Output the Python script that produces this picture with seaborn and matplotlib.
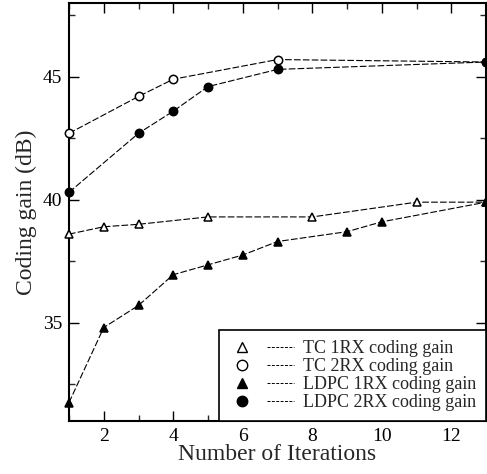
import matplotlib
matplotlib.use("Agg")
import matplotlib.pyplot as plt
import seaborn as sns
import pandas as pd
from matplotlib.lines import Line2D
from matplotlib.legend_handler import HandlerTuple

tc1_x = [1, 2, 3, 5, 8, 11, 13]
tc1_y = [38.6, 38.9, 39.0, 39.3, 39.3, 39.9, 39.9]
tc2_x = [1, 3, 4, 7, 13]
tc2_y = [42.7, 44.2, 44.9, 45.7, 45.6]
ldpc1_x = [1, 2, 3, 4, 5, 6, 7, 9, 10, 13]
ldpc1_y = [31.75, 34.8, 35.7, 36.95, 37.35, 37.75, 38.3, 38.7, 39.1, 39.9]
ldpc2_x = [1, 3, 4, 5, 7, 13]
ldpc2_y = [40.3, 42.7, 43.6, 44.6, 45.3, 45.6]

labels = ["TC 1RX coding gain", "TC 2RX coding gain",
          "LDPC 1RX coding gain", "LDPC 2RX coding gain"]
series = [(tc1_x, tc1_y), (tc2_x, tc2_y), (ldpc1_x, ldpc1_y), (ldpc2_x, ldpc2_y)]
markers = ["^", "o", "^", "o"]
faces = ["white", "white", "black", "black"]
msizes = [5.5, 6, 5.5, 6]

sns.set_style("ticks")
plt.rcParams["font.family"] = ["Liberation Serif", "DejaVu Serif"]

fig = plt.figure(figsize=(4.87, 4.74), dpi=100)
ax = fig.add_axes([69 / 487, 53 / 474, 417 / 487, 418 / 474])

handles = []
for (xs, ys), lab, m, fc, ms in zip(series, labels, markers, faces, msizes):
    df = pd.DataFrame({"x": xs, "y": ys})
    sns.lineplot(data=df, x="x", y="y", ax=ax, color="black", linewidth=0.8,
                 linestyle=(0, (6, 2)), marker=m, markersize=ms,
                 markerfacecolor=fc, markeredgecolor="black",
                 markeredgewidth=1.1, clip_on=False, zorder=3)
    mk = Line2D([], [], linestyle="none", marker=m, markersize=ms + 1.5,
                markerfacecolor=fc, markeredgecolor="black", markeredgewidth=1.0)
    ln = Line2D([], [], color="black", linewidth=0.7, linestyle=(0, (3, 1.5)))
    handles.append((mk, ln))

ax.set_xlim(1, 13)
ax.set_ylim(31, 48)
ax.set_xticks([2, 4, 6, 8, 10, 12])
ax.set_xticks(range(1, 14), minor=True)
ax.set_yticks([35, 40, 45])
ax.set_yticks([32.5, 35, 37.5, 40, 42.5, 45, 47.5], minor=True)
ax.tick_params(axis="both", which="major", direction="in", length=7, width=1,
               labelsize=14, top=True, right=True, colors="black", pad=5)
ax.tick_params(axis="both", which="minor", direction="in", length=4, width=1,
               top=True, right=True)
for s in ax.spines.values():
    s.set_linewidth(1.5)
    s.set_color("black")
ax.set_xlabel("Number of Iterations", fontsize=17, labelpad=-1)
ax.set_ylabel("Coding gain (dB)", fontsize=17, labelpad=4)

leg = ax.legend(handles, labels, handler_map={tuple: HandlerTuple(ndivide=None, pad=0.6)},
                loc="lower right", fontsize=13, frameon=True, fancybox=False,
                edgecolor="black", framealpha=1, handlelength=3.6,
                borderpad=0.55, labelspacing=0.05, handletextpad=0.5,
                borderaxespad=0)
leg.get_frame().set_linewidth(1.2)

fig.savefig("out.png", dpi=100)
